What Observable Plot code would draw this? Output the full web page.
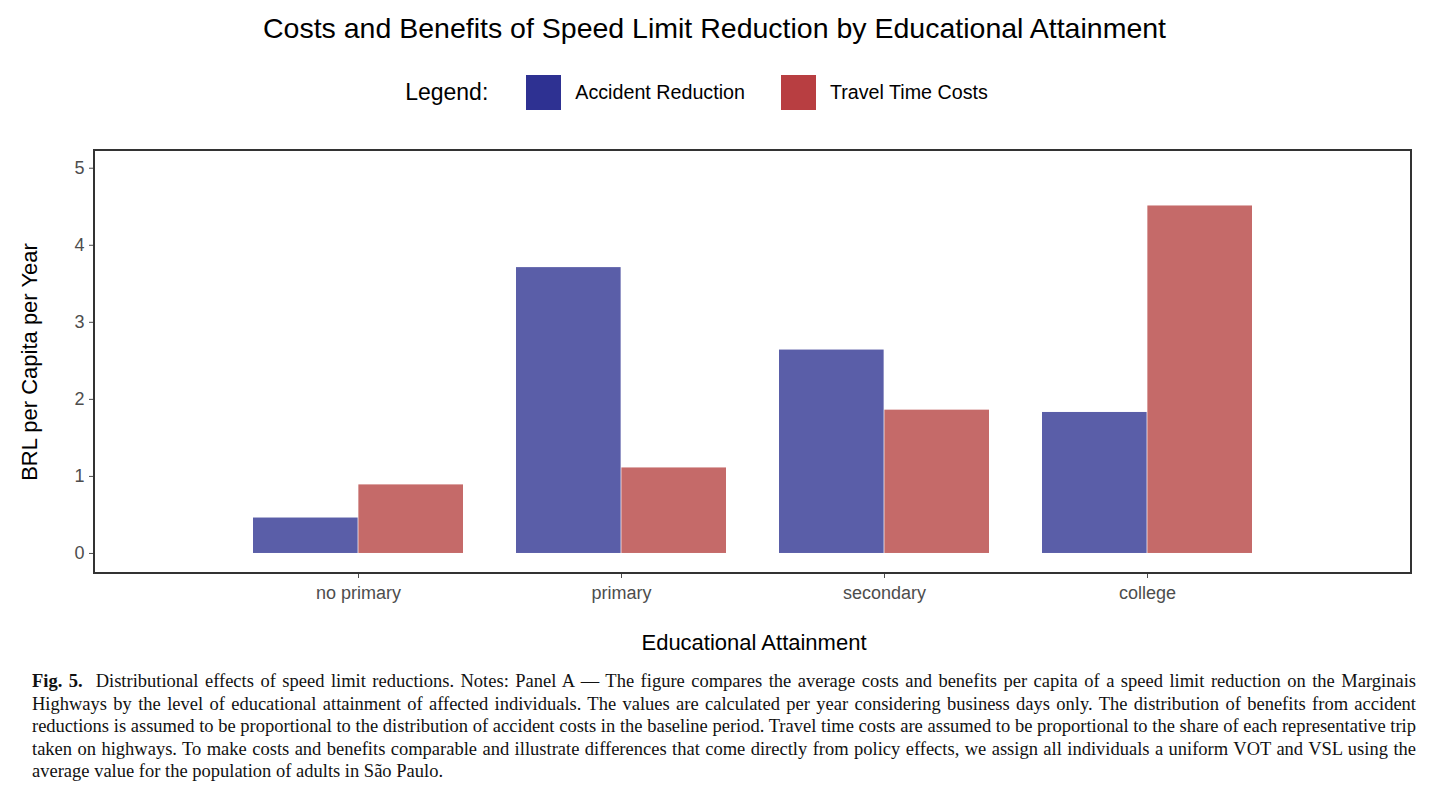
<!DOCTYPE html>
<html>
<head>
<meta charset="utf-8">
<script src="https://cdn.jsdelivr.net/npm/d3@7"></script>
<script src="https://cdn.jsdelivr.net/npm/@observablehq/plot@0.6"></script>
<style>
  body { margin: 0; width: 1429px; background: #fff; font-family: "Liberation Sans", Arial, sans-serif; }
  #title { height: 55px; line-height: 56px; text-align: center; font-size: 28.5px; color: #000; }
  #legend { height: 75px; display: flex; align-items: center; justify-content: center; font-size: 19.7px; }
  #legend .lab { font-size: 23px; margin-right: 38px; }
  #legend .sw { width: 35px; height: 35px; display: inline-block; margin-right: 14px; }
  #legend .it { display: flex; align-items: center; margin-right: 36px; }
  #chart svg { display: block; }
  #caption { margin: 10px 13px 0 32px; font-family: "Liberation Serif", serif; font-size: 18.5px; line-height: 22.5px; text-align: justify; color: #111; }
</style>
</head>
<body>
<div id="title">Costs and Benefits of Speed Limit Reduction by Educational Attainment</div>
<div id="legend">
  <span class="lab">Legend:</span>
  <span class="it"><span class="sw" style="background:#2e3192"></span>Accident Reduction</span>
  <span class="it"><span class="sw" style="background:#b83e41"></span>Travel Time Costs</span>
</div>
<div id="chart"></div>
<div id="caption"><b>Fig. 5.</b>&nbsp; Distributional effects of speed limit reductions. Notes: Panel A — The figure compares the average costs and benefits per capita of a speed limit reduction on the Marginais Highways by the level of educational attainment of affected individuals. The values are calculated per year considering business days only. The distribution of benefits from accident reductions is assumed to be proportional to the distribution of accident costs in the baseline period. Travel time costs are assumed to be proportional to the share of each representative trip taken on highways. To make costs and benefits comparable and illustrate differences that come directly from policy effects, we assign all individuals a uniform VOT and VSL using the average value for the population of adults in São Paulo.</div>
<script>
const categories = ["no primary", "primary", "secondary", "college"];
const series = ["Accident Reduction", "Travel Time Costs"];
const accident = [0.46, 3.71, 2.64, 1.83];
const travel = [0.89, 1.11, 1.86, 4.51];
const colors = ["#5a5ea8", "#c56a69"];

const accData = categories.map((c, i) => ({cat: c, series: series[0], value: accident[i]}));
const travData = categories.map((c, i) => ({cat: c, series: series[1], value: travel[i]}));

const W = 1429, H = 530, mL = 94, mR = 18, mT = 20, mB = 87;
const half = (W - mL - mR) / 5 * 0.8 / 2;

const chart = Plot.plot({
  width: W,
  height: H,
  marginLeft: mL,
  marginRight: mR,
  marginTop: mT,
  marginBottom: mB,
  style: {fontFamily: "Liberation Sans, Arial, sans-serif", fontSize: "18px", color: "#4d4d4d"},
  x: {domain: categories, paddingInner: 0.2, paddingOuter: 0.6, label: null, tickSize: 5, tickPadding: 8},
  y: {domain: [-0.26, 5.23], ticks: [0, 1, 2, 3, 4, 5], tickFormat: "d", label: null, tickSize: 5, tickPadding: 5},
  color: {domain: series, range: colors},
  marks: [
    Plot.barY(accData, {x: "cat", y: "value", fill: "series", insetRight: half}),
    Plot.barY(travData, {x: "cat", y: "value", fill: "series", insetLeft: half})
  ]
});
const svg = d3.select(chart);
svg.append("rect").attr("x", mL).attr("y", mT).attr("width", W - mL - mR).attr("height", H - mT - mB)
  .attr("fill", "none").attr("stroke", "#333").attr("stroke-width", 2);
svg.append("text").attr("x", 754).attr("y", 520).attr("text-anchor", "middle")
  .attr("font-size", 22).attr("fill", "#000").text("Educational Attainment");
svg.append("text").attr("transform", "translate(37,232) rotate(-90)").attr("text-anchor", "middle")
  .attr("font-size", 22).attr("fill", "#000").text("BRL per Capita per Year");
document.getElementById("chart").append(chart);
</script>
</body>
</html>
